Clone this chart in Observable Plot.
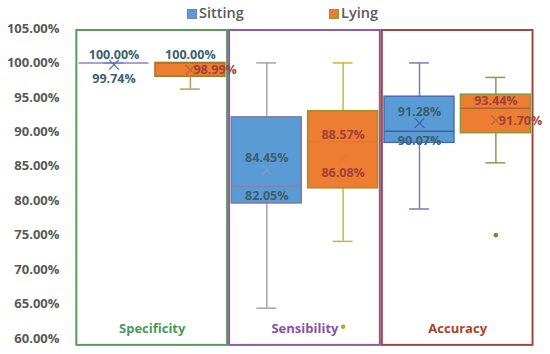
<!DOCTYPE html>
<html>
<head>
<meta charset="utf-8">
<script src="https://cdn.jsdelivr.net/npm/d3@7"></script>
<script src="https://cdn.jsdelivr.net/npm/@observablehq/plot@0.6"></script>
<style>
  html, body { margin: 0; padding: 0; background: #fff; }
  #legend { position: relative; width: 550px; height: 14px; font-family: "Open Sans", sans-serif; font-weight: 600; font-size: 14.5px; color: #595959; z-index: 2; }
  #legend .sw { position: absolute; top: 9px; width: 8px; height: 8px; }
  #legend .lb { position: absolute; top: 3px; line-height: 20px; }
  svg { display: block; }
</style>
</head>
<body>
<div id="legend"></div>
<div id="chart"></div>
<script>
// ---- data ----
const metrics = ["Specificity", "Sensibility", "Accuracy"];
const series = ["Sitting", "Lying"];
// order: Spec-Sitting, Spec-Lying, Sens-Sitting, Sens-Lying, Acc-Sitting, Acc-Lying
const minV    = [100, 96.2, 64.4, 74.1, 78.8, 85.5];
const q1V     = [100, 98.0, 79.6, 81.8, 88.4, 89.8];
const medianV = [100, 100, 82.05, 88.57, 90.07, 93.44];
const q3V     = [100, 100, 92.1, 93.0, 95.1, 95.4];
const maxV    = [100, 100, 100, 100, 100, 97.9];
const meanV   = [99.74, 98.99, 84.45, 86.08, 91.28, 91.70];
const outlierV = [[], [], [], [61.7], [], [75.0]];
const yTicks = [60, 65, 70, 75, 80, 85, 90, 95, 100, 105];

// ---- styles ----
const seriesFill = ["#5b9bd5", "#ed7d31"];
const boxStroke     = ["#8a84c8", "#9c7c2c", "#7a7aa8", "#a08e28", "#4670b0", "#8a9a40"];
const whiskerStroke = ["#8a84c8", "#b89a60", "#a6a6a6", "#c8b830", "#6f7fc0", "#8a9a50"];
const medianStroke  = ["#8a84c8", "#9c7c2c", "#7888a8", "#e47a30", "#3a64a8", "#b0603a"];
const meanStroke    = ["#6070a8", "#c86830", "#70a0c8", "#e67c32", "#3a64b0", "#c06a3a"];
const outlierFill   = ["#7a8a3a", "#7a8a3a", "#7a8a3a", "#b8a830", "#7a8a3a", "#7a8a3a"];
const panelStroke = ["#5a9a5a", "#8e5aa0", "#a0463a"];
const panelText   = ["#4a9a5a", "#8a50a8", "#b0402c"];
const labelColor  = ["#3a5f6f", "#a0413c"];
// label placement: [which, dx, dy, anchor]
const labelPlace = [
  [["median", 0, -8, "middle"], ["mean", 0, 14, "middle"]],
  [["median", 0, -8, "middle"], ["mean", 3, 0, "start"]],
  [["mean", 0, -12, "middle"], ["median", 0, 9, "middle"]],
  [["median", 0, -7, "middle"], ["mean", 0, 14, "middle"]],
  [["mean", 0, -11, "middle"], ["median", 0, 10, "middle"]],
  [["median", 0, -7, "middle"], ["mean", 3, 1, "start"]]
];

const boxes = metrics.flatMap((m, mi) => series.map((s, si) => {
  const i = mi * 2 + si;
  return { i, mi, si, metric: m, series: s, min: minV[i], q1: q1V[i], median: medianV[i], q3: q3V[i], max: maxV[i], mean: meanV[i], outliers: outlierV[i] };
}));
const outliers = boxes.flatMap(b => b.outliers.map(v => ({ i: b.i, v })));

const xDomain = [-0.57, 5.65];
const panels = metrics.map((m, k) => ({
  metric: m, k,
  x1: Math.max(2 * k - 0.5, xDomain[0]),
  x2: Math.min(2 * k + 1.5, xDomain[1])
}));
const halfBox = 0.458, halfCap = 0.13;
const fmt = v => v.toFixed(2) + "%";

// legend
const legend = document.getElementById("legend");
const legendPos = [{ sw: 187, lb: 199, border: "#7a7ac8" }, { sw: 329, lb: 341, border: "#a09030" }];
series.forEach((s, si) => {
  const sw = document.createElement("div");
  sw.className = "sw";
  sw.style.left = legendPos[si].sw + "px";
  sw.style.background = seriesFill[si];
  sw.style.border = "1px solid " + legendPos[si].border;
  legend.appendChild(sw);
  const lb = document.createElement("div");
  lb.className = "lb";
  lb.style.left = legendPos[si].lb + "px";
  lb.textContent = s;
  legend.appendChild(lb);
});

const labelMarks = boxes.flatMap(b => labelPlace[b.i].map(([which, dx, dy, anchor]) =>
  Plot.text([b], {
    x: "i", y: which, text: d => fmt(d[which]),
    dx, dy, textAnchor: anchor,
    fill: (b.i === 1 && which === "median") ? labelColor[0] : labelColor[b.si],
    fontSize: 12.5, fontWeight: "bold"
  })
));

const chart = Plot.plot({
  width: 550,
  height: 340,
  marginTop: 14,
  marginBottom: 16,
  marginLeft: 70,
  marginRight: 5,
  style: { fontFamily: "'Open Sans', sans-serif", fontSize: "13px", fontWeight: "bold", color: "#595959", background: "transparent", overflow: "visible" },
  x: { domain: xDomain, axis: null },
  y: { domain: [60, 105], ticks: yTicks, tickFormat: fmt, tickSize: 0, tickPadding: 11, label: null },
  color: { type: "identity" },
  marks: [
    Plot.rect(panels, { x1: "x1", x2: "x2", y1: () => 59.0, y2: () => 104.71, fill: "none", stroke: d => panelStroke[d.k], strokeWidth: 2, insetLeft: 1, insetRight: 1 }),
    Plot.text(panels, { x: d => (d.x1 + d.x2) / 2, y: () => 61.45, text: "metric", fill: d => panelText[d.k], fontSize: 13, fontWeight: "bold" }),
    Plot.ruleX(boxes, { x: "i", y1: "min", y2: "q1", stroke: d => whiskerStroke[d.i], strokeWidth: 1.5 }),
    Plot.ruleX(boxes, { x: "i", y1: "q3", y2: "max", stroke: d => whiskerStroke[d.i], strokeWidth: 1.5 }),
    Plot.ruleY(boxes, { y: "min", x1: d => d.i - halfCap, x2: d => d.i + halfCap, stroke: d => whiskerStroke[d.i], strokeWidth: 1.5 }),
    Plot.ruleY(boxes, { y: "max", x1: d => d.i - halfCap, x2: d => d.i + halfCap, stroke: d => whiskerStroke[d.i], strokeWidth: 1.5 }),
    Plot.rect(boxes, { x1: d => d.i - halfBox, x2: d => d.i + halfBox, y1: "q1", y2: "q3", fill: d => seriesFill[d.si], stroke: d => boxStroke[d.i], strokeWidth: 1.5 }),
    Plot.ruleY(boxes, { y: "median", x1: d => d.i - halfBox, x2: d => d.i + halfBox, stroke: d => medianStroke[d.i], strokeWidth: 1.5 }),
    Plot.dot(boxes, { x: "i", y: "mean", symbol: "times", r: 4.5, stroke: d => meanStroke[d.i], strokeWidth: 1.3 }),
    Plot.dot(outliers, { x: "i", y: "v", r: 2.3, fill: d => outlierFill[d.i], stroke: "none" }),
    ...labelMarks
  ]
});
document.getElementById("chart").appendChild(chart);
</script>
</body>
</html>
